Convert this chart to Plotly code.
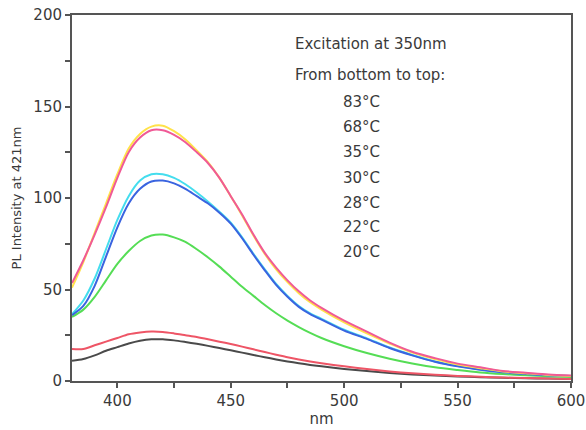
import plotly.graph_objects as go

wavelength = [380, 385, 390, 395, 400, 405, 410, 415, 420, 425, 430, 435, 440, 445,
              450, 455, 460, 465, 470, 475, 480, 485, 490, 500, 510, 520, 530, 540,
              550, 560, 570, 580, 590, 600]

t83 = [11, 12, 14, 16.5, 18.5, 20.5, 22, 22.8, 22.8, 22.2, 21.3, 20.3, 19.2, 18,
       16.8, 15.5, 14.2, 13, 11.8, 10.7, 9.7, 8.8, 8, 6.6, 5.4, 4.4, 3.6, 3,
       2.5, 2.1, 1.8, 1.5, 1.3, 1.1]
t68 = [17.5, 17.5, 19.5, 21.5, 23.5, 25.5, 26.5, 27, 26.8, 26, 25, 24, 22.8, 21.5,
       20.2, 18.8, 17.3, 15.8, 14.4, 13, 11.8, 10.7, 9.7, 8, 6.5, 5.2, 4.2, 3.4,
       2.8, 2.3, 1.9, 1.6, 1.3, 1.1]
t35 = [35, 39, 46, 55, 64, 71, 76.5, 79.5, 80, 78.5, 76, 72, 67.5, 62.5,
       57, 51.5, 46.5, 41.5, 37, 33, 29.5, 26.3, 23.5, 19, 15.3, 12.2, 9.6, 7.5,
       6, 4.7, 3.8, 3.1, 2.6, 2.2]
t30 = [36, 41, 52, 68, 84, 97, 105, 109, 109.5, 108, 105, 101, 97, 92,
       86, 78, 69, 60.5, 52.5, 46, 40.5, 36.5, 33.5, 27.5, 23, 18, 14, 10.5,
       8, 6.2, 4.8, 3.8, 3.1, 2.7]
t28 = [36.5, 44, 56, 72, 88, 101, 109.5, 113, 113, 111, 107.5, 103, 98, 92.5,
       86.5, 78.5, 69.5, 61, 53, 46.5, 41, 37, 34, 28, 23.3, 18.3, 14.2, 10.7,
       8.2, 6.3, 4.9, 3.9, 3.2, 2.8]
t22 = [53.5, 66, 80, 95, 111, 125, 133, 137, 137, 134.5, 130.5, 125, 119, 111,
       101, 91, 80, 70, 62, 55, 49, 44, 40, 33, 27, 21, 16, 12.5,
       9.5, 7.5, 5.5, 4.5, 3.5, 3]
t20 = [51, 65, 81, 97, 113, 127, 135, 139, 139.5, 136.5, 132, 126, 119.5, 111,
       101, 90.5, 79.5, 69.5, 61, 54, 48, 43, 39, 32, 26, 20.5, 15.5, 12,
       9, 7, 5.2, 4.2, 3.3, 2.8]

series_names = ["83°C", "68°C", "35°C", "28°C", "30°C", "20°C", "22°C"]
series_values = [t83, t68, t35, t28, t30, t20, t22]
series_colors = ["#4a4a4a", "#ee5566", "#55dd55", "#44ddee", "#3a64e0", "#ffe24a", "#f05a96"]

legend_lines = ["83°C", "68°C", "35°C", "30°C", "28°C", "22°C", "20°C"]
legend_y = [152.3, 138.6, 124.9, 111.2, 97.5, 84.4, 70.7]

fig = go.Figure()
for name, vals, col in zip(series_names, series_values, series_colors):
    fig.add_trace(go.Scatter(x=wavelength, y=vals, mode="lines", name=name,
                             line=dict(color=col, width=2, shape="spline", smoothing=0.8)))

font_main = "DejaVu Sans, Arial, sans-serif"
txt_col = "#3a3a3a"
axcol = "#555555"

annotations = [
    dict(x=477.4, y=184, text="Excitation at 350nm", xanchor="left", yanchor="middle",
         showarrow=False, font=dict(family=font_main, size=15, color=txt_col)),
    dict(x=477.4, y=167, text="From bottom to top:", xanchor="left", yanchor="middle",
         showarrow=False, font=dict(family=font_main, size=15, color=txt_col)),
]
for lbl, yy in zip(legend_lines, legend_y):
    annotations.append(dict(x=507.5, y=yy, text=lbl, xanchor="center", yanchor="middle",
                            showarrow=False, font=dict(family=font_main, size=15, color=txt_col)))

fig.update_layout(
    width=586, height=430,
    margin=dict(l=72, r=15, t=15, b=49, autoexpand=False),
    paper_bgcolor="white", plot_bgcolor="white",
    showlegend=False,
    annotations=annotations,
    xaxis=dict(range=[380, 600], tickvals=[400, 450, 500, 550, 600], automargin=False,
               ticks="outside", ticklen=5, tickwidth=2, tickcolor=axcol,
               minor=dict(tickvals=[425, 475, 525, 575], ticks="outside", ticklen=5,
                          tickwidth=2, tickcolor=axcol),
               showline=True, linecolor=axcol, linewidth=2, mirror=True,
               showgrid=False, zeroline=False,
               tickfont=dict(family=font_main, size=15, color=txt_col),
               title=dict(text="nm", font=dict(family=font_main, size=15, color=txt_col),
                          standoff=2)),
    yaxis=dict(range=[0, 200], tickvals=[0, 50, 100, 150, 200], automargin=False,
               ticks="outside", ticklen=5, tickwidth=2, tickcolor=axcol,
               minor=dict(tickvals=[25, 75, 125, 175], ticks="outside", ticklen=5,
                          tickwidth=2, tickcolor=axcol),
               showline=True, linecolor=axcol, linewidth=2, mirror=True,
               showgrid=False, zeroline=False,
               tickfont=dict(family=font_main, size=15, color=txt_col),
               title=dict(text="PL Intensity at 421nm",
                          font=dict(family=font_main, size=13, color=txt_col),
                          standoff=9)),
)

fig.write_html("out.html")
